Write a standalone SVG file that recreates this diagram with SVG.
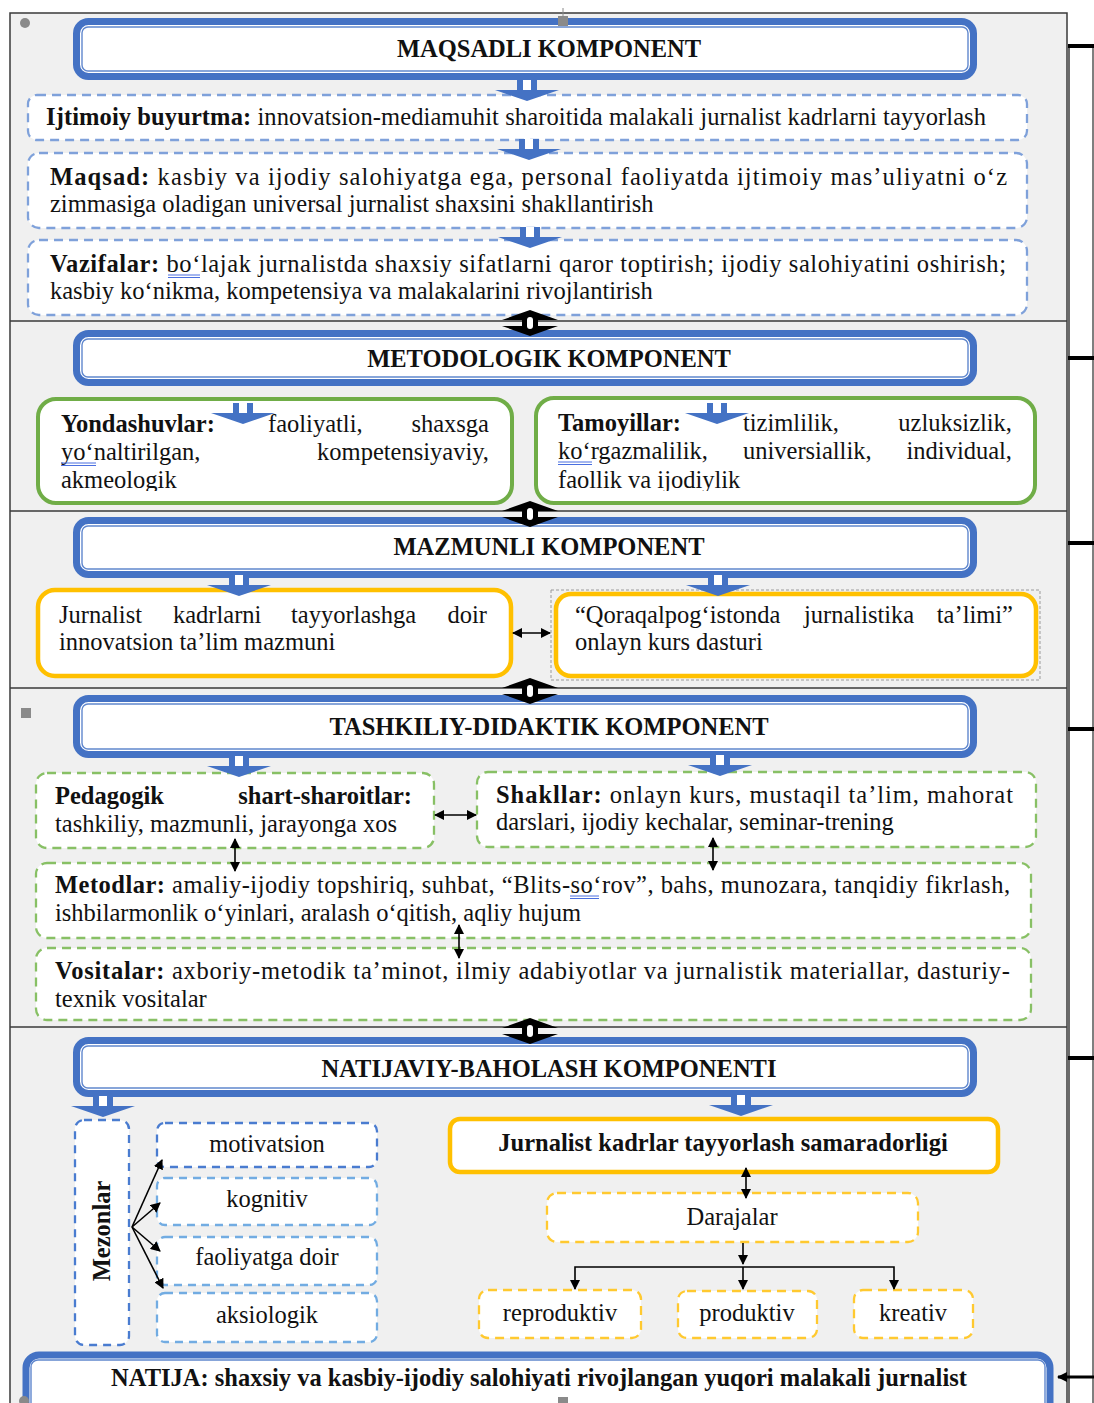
<svg xmlns="http://www.w3.org/2000/svg" width="1094" height="1403" viewBox="0 0 1094 1403">
<style>
.frame{fill:#f0f0f0;stroke:#3a3a3a;stroke-width:1.5}
.div{stroke:#3a3a3a;stroke-width:1.5}
.ho{fill:#fff;stroke:#4472c4;stroke-width:7}
.hi{fill:none;stroke:#4472c4;stroke-width:1.4;opacity:.85}
.t{font-family:"Liberation Serif","Times New Roman",serif;font-size:24.5px;fill:#111}
.b{font-weight:bold}
.m{text-anchor:middle}
.e{text-anchor:end}
.dblue{fill:#fff;stroke:#7fa1da;stroke-width:2.3;stroke-dasharray:9 6}
.dblue2{fill:#fff;stroke:#4a7cd0;stroke-width:2.3;stroke-dasharray:8 6}
.dlblue{fill:#fff;stroke:#72ace2;stroke-width:2.3;stroke-dasharray:8 6}
.dgreen{fill:#fff;stroke:#88c065;stroke-width:2.3;stroke-dasharray:9 6}
.dyel{fill:#fff;stroke:#ffc930;stroke-width:2.3;stroke-dasharray:9 6}
.sgreen{fill:#fff;stroke:#70ad47;stroke-width:4}
.syel{fill:#fff;stroke:#ffc000;stroke-width:4.5}
.conn{stroke:#000;stroke-width:1.6;fill:none}
.tick{stroke:#000;stroke-width:4}
.ul{stroke:#4a6fe0;stroke-width:1}
.hdl{fill:#8a8a8a}
</style>
<defs>
<marker id="ah" viewBox="0 0 10 10" refX="9" refY="5" markerWidth="10" markerHeight="10" markerUnits="userSpaceOnUse" orient="auto-start-reverse">
<path d="M0,0 L10,5 L0,10 Z" fill="#000"/>
</marker>
<g id="ba">
<path d="M-10,0 H10 V10 H32 L0,21 L-32,10 H-10 Z" fill="#4472c4"/>
<rect x="-4" y="0" width="8" height="10" fill="#fff"/>
</g>
<g id="ud">
<path d="M-28,-3 L0,-13 L28,-3 Z M-28,3 L0,13 L28,3 Z" fill="#000"/>
<rect x="-8" y="-9" width="16" height="18" rx="5" fill="#000"/>
<rect x="-3" y="-6" width="6" height="12" rx="3" fill="#fff"/>
</g>
<clipPath id="c2"><rect x="0" y="390" width="1094" height="101"/></clipPath>
</defs>

<!-- frame and section dividers -->
<g id="frame">
<rect class="frame" x="10" y="13" width="1057" height="1400"/>
<line class="div" x1="1069" y1="46" x2="1069" y2="1403" stroke-width="1"/>
<line class="div" x1="10" y1="321" x2="1067" y2="321"/>
<line class="div" x1="10" y1="511" x2="1067" y2="511"/>
<line class="div" x1="10" y1="688" x2="1067" y2="688"/>
<line class="div" x1="10" y1="1027" x2="1067" y2="1027"/>
</g>

<!-- Section 1 -->
<g id="maqsadli">
<rect class="ho" x="76.5" y="21.5" width="897" height="55" rx="12"/>
<rect class="hi" x="82" y="27" width="886" height="44" rx="6"/>
<text class="t b m" x="549" y="57">MAQSADLI KOMPONENT</text>
</g>
<g id="ijtimoiy">
<rect class="dblue" x="28" y="95" width="999" height="45" rx="9"/>
<text class="t" x="46" y="125" textLength="940" lengthAdjust="spacing"><tspan class="b">Ijtimoiy buyurtma:</tspan> innovatsion-mediamuhit sharoitida malakali jurnalist kadrlarni tayyorlash</text>
</g>
<g id="maqsad">
<rect class="dblue" x="28" y="153" width="999" height="75" rx="11"/>
<text class="t" x="50" y="185" textLength="957" lengthAdjust="spacing"><tspan class="b">Maqsad:</tspan> kasbiy va ijodiy salohiyatga ega, personal faoliyatda ijtimoiy mas’uliyatni o‘z</text>
<text class="t" x="50" y="212">zimmasiga oladigan universal jurnalist shaxsini shakllantirish</text>
</g>
<g id="vazifalar">
<rect class="dblue" x="28" y="240" width="999" height="75" rx="11"/>
<text class="t" x="50" y="272" textLength="956" lengthAdjust="spacing"><tspan class="b">Vazifalar:</tspan> bo‘lajak jurnalistda shaxsiy sifatlarni qaror toptirish; ijodiy salohiyatini oshirish;</text>
<text class="t" x="50" y="299">kasbiy ko‘nikma, kompetensiya va malakalarini rivojlantirish</text>
<line class="ul" x1="168" y1="275" x2="200" y2="275"/><line class="ul" x1="168" y1="277.5" x2="200" y2="277.5"/>
</g>

<!-- Section 2 -->
<g id="metodologik">
<rect class="ho" x="76.5" y="333.5" width="897" height="49" rx="12"/>
<rect class="hi" x="82" y="339" width="886" height="38" rx="6"/>
<text class="t b m" x="549" y="367">METODOLOGIK KOMPONENT</text>
</g>
<g id="yondashuvlar">
<rect class="sgreen" x="38" y="399" width="474" height="104" rx="18"/>
<g clip-path="url(#c2)">
<text class="t" y="432"><tspan class="b" x="61">Yondashuvlar:</tspan><tspan x="268">faoliyatli,</tspan><tspan class="e" x="489">shaxsga</tspan></text>
<text class="t" y="460"><tspan x="61">yo‘naltirilgan,</tspan><tspan class="e" x="489">kompetensiyaviy,</tspan></text>
<text class="t" x="61" y="488">akmeologik</text>
</g>
<line class="ul" x1="61" y1="463" x2="96" y2="463"/><line class="ul" x1="61" y1="465.5" x2="96" y2="465.5"/>
</g>
<g id="tamoyillar">
<rect class="sgreen" x="536" y="398" width="499" height="105" rx="18"/>
<g clip-path="url(#c2)">
<text class="t" y="431"><tspan class="b" x="558">Tamoyillar:</tspan><tspan x="743">tizimlilik,</tspan><tspan class="e" x="1012">uzluksizlik,</tspan></text>
<text class="t" y="459"><tspan x="558">ko‘rgazmalilik,</tspan><tspan x="743">universiallik,</tspan><tspan class="e" x="1012">individual,</tspan></text>
<text class="t" x="558" y="488">faollik va ijodiylik</text>
</g>
<line class="ul" x1="558" y1="462" x2="592" y2="462"/><line class="ul" x1="558" y1="464.5" x2="592" y2="464.5"/>
</g>

<!-- Section 3 -->
<g id="mazmunli">
<rect class="ho" x="76.5" y="520.5" width="897" height="54" rx="12"/>
<rect class="hi" x="82" y="526" width="886" height="43" rx="6"/>
<text class="t b m" x="549" y="555">MAZMUNLI KOMPONENT</text>
</g>
<g id="mazmun">
<rect class="syel" x="38" y="590" width="473" height="86" rx="17"/>
<text class="t" y="623"><tspan x="59">Jurnalist</tspan><tspan x="173">kadrlarni</tspan><tspan x="291">tayyorlashga</tspan><tspan class="e" x="487">doir</tspan></text>
<text class="t" x="59" y="650">innovatsion ta’lim mazmuni</text>
</g>
<g id="kurs">
<rect x="551" y="590" width="489" height="90" fill="none" stroke="#9a9a9a" stroke-width="1" stroke-dasharray="3 2"/>
<rect class="syel" x="556" y="594" width="480" height="82" rx="15"/>
<text class="t" y="623"><tspan x="575">“Qoraqalpog‘istonda</tspan><tspan x="804">jurnalistika</tspan><tspan class="e" x="1013">ta’limi”</tspan></text>
<text class="t" x="575" y="650">onlayn kurs dasturi</text>
</g>

<!-- Section 4 -->
<g id="tashkiliy">
<rect class="ho" x="76.5" y="698.5" width="897" height="56" rx="12"/>
<rect class="hi" x="82" y="704" width="886" height="45" rx="6"/>
<text class="t b m" x="549" y="735">TASHKILIY-DIDAKTIK KOMPONENT</text>
</g>
<g id="pedagogik">
<rect class="dgreen" x="36" y="773" width="398" height="75" rx="11"/>
<text class="t b" y="804"><tspan x="55">Pedagogik</tspan><tspan class="e" x="412">shart-sharoitlar:</tspan></text>
<text class="t" x="55" y="832">tashkiliy, mazmunli, jarayonga xos</text>
</g>
<g id="shakllar">
<rect class="dgreen" x="477" y="772" width="559" height="75" rx="11"/>
<text class="t" x="496" y="803" textLength="517" lengthAdjust="spacing"><tspan class="b">Shakllar:</tspan> onlayn kurs, mustaqil ta’lim, mahorat</text>
<text class="t" x="496" y="830">darslari, ijodiy kechalar, seminar-trening</text>
</g>
<g id="metodlar">
<rect class="dgreen" x="36" y="863" width="995" height="75" rx="11"/>
<text class="t" x="55" y="893" textLength="955" lengthAdjust="spacing"><tspan class="b">Metodlar:</tspan> amaliy-ijodiy topshiriq, suhbat, “Blits-so‘rov”, bahs, munozara, tanqidiy fikrlash,</text>
<text class="t" x="55" y="921">ishbilarmonlik o‘yinlari, aralash o‘qitish, aqliy hujum</text>
<line class="ul" x1="570" y1="896" x2="599" y2="896"/><line class="ul" x1="570" y1="898.5" x2="599" y2="898.5"/>
</g>
<g id="vositalar">
<rect class="dgreen" x="36" y="948" width="995" height="72" rx="11"/>
<text class="t" x="55" y="979" textLength="955" lengthAdjust="spacing"><tspan class="b">Vositalar:</tspan> axboriy-metodik ta’minot, ilmiy adabiyotlar va jurnalistik materiallar, dasturiy-</text>
<text class="t" x="55" y="1007">texnik vositalar</text>
</g>

<!-- Section 5 -->
<g id="natijaviy">
<rect class="ho" x="76.5" y="1040.5" width="897" height="53" rx="12"/>
<rect class="hi" x="82" y="1046" width="886" height="42" rx="6"/>
<text class="t b m" x="549" y="1077">NATIJAVIY-BAHOLASH KOMPONENTI</text>
</g>
<g id="mezonlar">
<rect class="dblue2" x="75" y="1120" width="54" height="225" rx="9"/>
<text class="t b m" transform="translate(110,1231) rotate(-90)" x="0" y="0">Mezonlar</text>
</g>
<g id="motivatsion">
<rect class="dblue2" x="157" y="1123" width="220" height="44" rx="8"/>
<text class="t m" x="267" y="1152">motivatsion</text>
</g>
<g id="kognitiv">
<rect class="dlblue" x="157" y="1178" width="220" height="47" rx="8"/>
<text class="t m" x="267" y="1207">kognitiv</text>
</g>
<g id="faoliyatga">
<rect class="dlblue" x="157" y="1237" width="220" height="48" rx="8"/>
<text class="t m" x="267" y="1265">faoliyatga doir</text>
</g>
<g id="aksiologik">
<rect class="dlblue" x="157" y="1293" width="220" height="49" rx="8"/>
<text class="t m" x="267" y="1323">aksiologik</text>
</g>
<g id="samaradorlik">
<rect class="syel" x="450" y="1119" width="548" height="53" rx="10"/>
<text class="t b m" x="723" y="1151">Jurnalist kadrlar tayyorlash samaradorligi</text>
</g>
<g id="darajalar">
<rect class="dyel" x="547" y="1193" width="371" height="49" rx="10"/>
<text class="t m" x="732" y="1225">Darajalar</text>
</g>
<g id="reproduktiv">
<rect class="dyel" x="479" y="1290" width="162" height="48" rx="9"/>
<text class="t m" x="560" y="1321">reproduktiv</text>
</g>
<g id="produktiv">
<rect class="dyel" x="678" y="1291" width="139" height="47" rx="9"/>
<text class="t m" x="747" y="1321">produktiv</text>
</g>
<g id="kreativ">
<rect class="dyel" x="854" y="1290" width="119" height="48" rx="9"/>
<text class="t m" x="913" y="1321">kreativ</text>
</g>
<g id="natija">
<rect class="ho" x="26" y="1355" width="1024" height="70" rx="13" stroke-width="6"/>
<rect class="hi" x="31" y="1360" width="1014" height="60" rx="7"/>
<text class="t b m" x="539" y="1386">NATIJA: shaxsiy va kasbiy-ijodiy salohiyati rivojlangan yuqori malakali jurnalist</text>
</g>

<!-- connectors -->
<g id="connectors">
<use href="#ba" x="527" y="80"/>
<use href="#ba" x="529" y="139"/>
<use href="#ba" x="530" y="227"/>
<use href="#ba" x="243" y="403"/>
<use href="#ba" x="717" y="403"/>
<use href="#ba" x="239" y="575"/>
<use href="#ba" x="718" y="575"/>
<use href="#ba" x="239" y="756"/>
<use href="#ba" x="720" y="755"/>
<use href="#ba" x="103" y="1096"/>
<use href="#ba" x="741" y="1095"/>
<use href="#ud" x="530" y="323"/>
<use href="#ud" x="530" y="514"/>
<use href="#ud" x="530" y="691"/>
<use href="#ud" x="530" y="1031"/>
<line class="conn" x1="513" y1="633" x2="550" y2="633" marker-start="url(#ah)" marker-end="url(#ah)"/>
<line class="conn" x1="435" y1="815" x2="476" y2="815" marker-start="url(#ah)" marker-end="url(#ah)"/>
<line class="conn" x1="235" y1="839" x2="235" y2="871" marker-start="url(#ah)" marker-end="url(#ah)"/>
<line class="conn" x1="713" y1="838" x2="713" y2="870" marker-start="url(#ah)" marker-end="url(#ah)"/>
<line class="conn" x1="459" y1="925" x2="459" y2="958" marker-start="url(#ah)" marker-end="url(#ah)"/>
<line class="conn" x1="132" y1="1227" x2="162" y2="1160" marker-end="url(#ah)"/>
<line class="conn" x1="132" y1="1227" x2="160" y2="1203" marker-end="url(#ah)"/>
<line class="conn" x1="132" y1="1227" x2="160" y2="1251" marker-end="url(#ah)"/>
<line class="conn" x1="132" y1="1227" x2="163" y2="1288" marker-end="url(#ah)"/>
<line class="conn" x1="746" y1="1168" x2="746" y2="1198" marker-start="url(#ah)" marker-end="url(#ah)"/>
<line class="conn" x1="743" y1="1243" x2="743" y2="1264" marker-end="url(#ah)"/>
<polyline class="conn" points="575,1289 575,1267 894,1267 894,1289" marker-start="url(#ah)" marker-end="url(#ah)"/>
<line class="conn" x1="743" y1="1267" x2="743" y2="1289" marker-end="url(#ah)"/>
<line x1="1093" y1="46" x2="1093" y2="1403" stroke="#555" stroke-width="1.5"/>
<line class="tick" x1="1068" y1="46" x2="1094" y2="46"/>
<line class="tick" x1="1068" y1="358" x2="1094" y2="358"/>
<line class="tick" x1="1068" y1="543" x2="1094" y2="543"/>
<line class="tick" x1="1068" y1="729" x2="1094" y2="729"/>
<line class="tick" x1="1068" y1="1058" x2="1094" y2="1058"/>
<line x1="1094" y1="1377" x2="1058" y2="1377" stroke="#000" stroke-width="3" marker-end="url(#ah)"/>
</g>

<!-- selection handles -->
<g id="handles">
<circle class="hdl" cx="25" cy="23" r="5"/>
<line x1="563" y1="8" x2="563" y2="18" stroke="#8a8a8a" stroke-width="1"/>
<rect class="hdl" x="558" y="16" width="10" height="10"/>
<rect class="hdl" x="21" y="708" width="10" height="10"/>
<circle class="hdl" cx="24" cy="1401" r="5"/>
<rect class="hdl" x="558" y="1397" width="10" height="10"/>
</g>
</svg>
